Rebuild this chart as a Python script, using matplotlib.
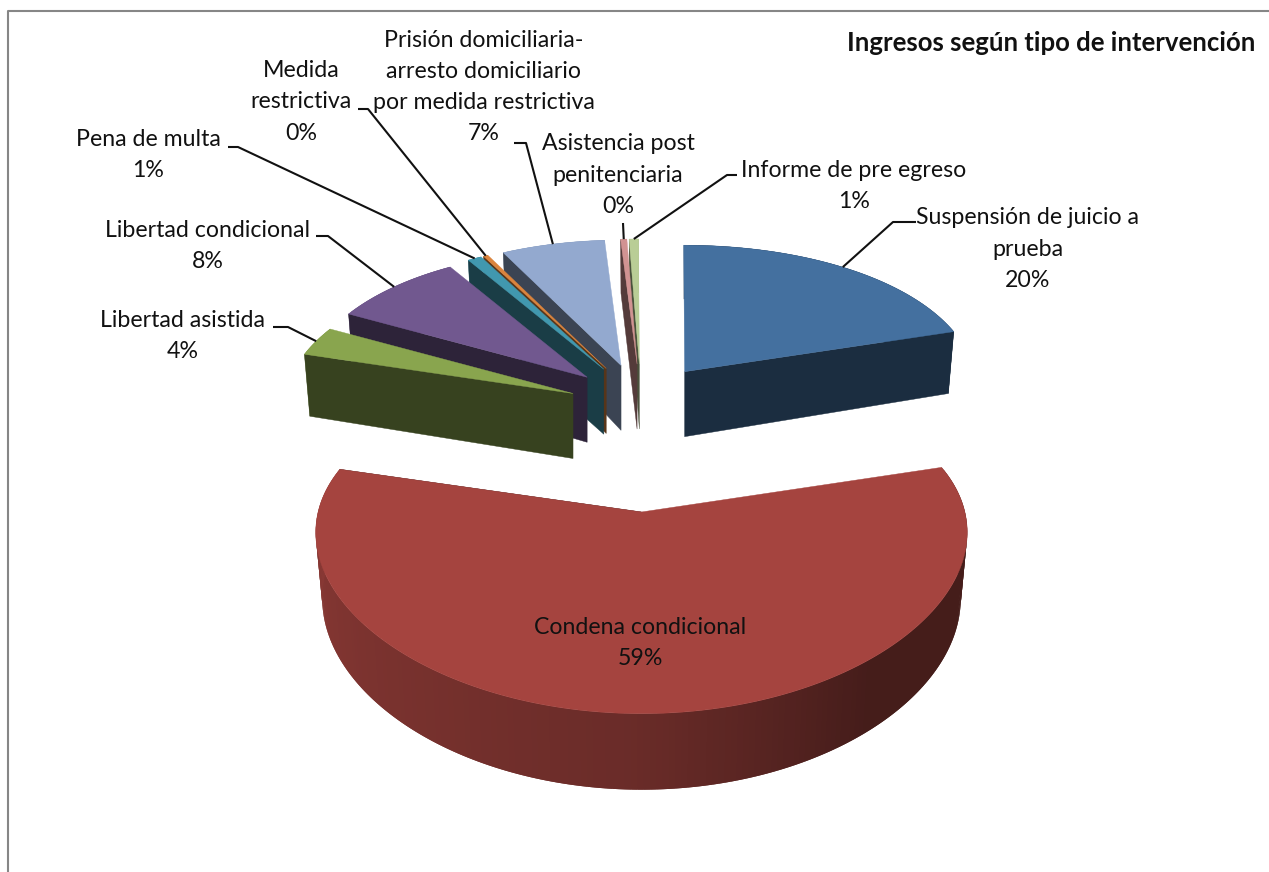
"""
Ingresos según tipo de intervención: exploded 3D pie drawn from polygons.
"""
import numpy as np
import matplotlib
matplotlib.use("Agg")
import matplotlib.pyplot as plt
from matplotlib.patches import Polygon

plt.rcParams["font.family"] = ["Lato", "DejaVu Sans"]

# data (clockwise from the top of the pie)
categories = [
    "Suspensión de juicio a\nprueba",
    "Condena condicional",
    "Libertad asistida",
    "Libertad condicional",
    "Pena de multa",
    "Medida\nrestrictiva",
    "Prisión domiciliaria-\narresto domiciliario\npor medida restrictiva",
    "Asistencia post\npenitenciaria",
    "Informe de pre egreso",
]
values = [20.5, 58.9, 3.2, 8.5, 0.9, 0.3, 6.7, 0.4, 0.6]
percent_labels = ["20%", "59%", "4%", "8%", "1%", "0%", "7%", "0%", "1%"]
top_colors = ["#44709F", "#A5443F", "#89A54E", "#71588F", "#4198AF",
              "#DB843D", "#93A9CF", "#D19392", "#B9CD96"]

# layout, in pixels of the 1269x872 picture
W, H_PX = 1269, 872
START = -0.2
CX, CY = 641, 435
EXPLODE_X, EXPLODE_BACK, EXPLODE_FRONT, LIFT = 73, 71, 77, 18
R, H, K, K_X, K_WEDGE = 304, 156, 0.177, 0.12, 0.06
LEFT_SCALE = 0.968  # wedges on the far left come out a bit narrower
DEPTH, K_DEPTH, BOTTOM_SCALE = 65, 0.17, 0.98
WALL_FACTOR = 0.40
FONT_SIZE = 16.7

label_pos = [(1028, 249), (640, 643), (183, 336), (208, 246), (148, 155),
             (301, 102), (484, 87), (618, 175), (854, 186)]
# label end and elbow of each leader line, the last point is on the wedge rim
leader_pts = [[(916, 222), (893, 222)], None,
              [(273, 327), (288, 327)], [(316, 236), (328, 236)],
              [(228, 147), (238, 147)], [(358, 109), (368, 109)],
              [(514, 143), (526, 143)], [(623, 223)],
              [(737, 175), (727, 175)]]


def apex_of(mid):
    a = np.radians(mid)
    ey = EXPLODE_BACK if np.cos(a) > 0 else EXPLODE_FRONT
    return (CX + EXPLODE_X * np.sin(a),
            CY - ey * np.cos(a) - LIFT * np.sin(a) ** 2)


def rim(t, mid):
    """Top-face rim point, relative to the wedge apex, with perspective."""
    a = np.radians(t)
    u, v = np.sin(a), np.cos(a)
    sw = 1 + K_WEDGE * np.cos(np.radians(mid))
    rx = R * LEFT_SCALE if mid > 200 else R
    return (rx * u / (1 + K_X * v) / sw, -H * v / (1 + K * v) / sw,
            DEPTH * (1 - K_DEPTH * v))


def shade(color, f):
    return tuple(c * f for c in matplotlib.colors.to_rgb(color))


fig = plt.figure(figsize=(W / 100, H_PX / 100), dpi=100)
ax = fig.add_axes([0, 0, 1, 1])
ax.set_xlim(0, W)
ax.set_ylim(H_PX, 0)
ax.axis("off")

# chart frame, cut by the screenshot on the right and at the bottom
ax.plot([8, 8, W], [H_PX, 11, 11], color="#868686", lw=1.5)

shares = np.array(values) / sum(values) * 360
ends = START + np.cumsum(shares)
starts = ends - shares
mids = (starts + ends) / 2

order = sorted(range(len(values)), key=lambda i: -np.cos(np.radians(mids[i])))
for i in order:
    ax0, ay0 = apex_of(mids[i])
    ts = np.linspace(starts[i], ends[i], max(int(shares[i] / 1.0), 2) + 1)
    col = top_colors[i]

    # outer wall, darker to the right; segments overlap so no seams show
    for j in range(len(ts) - 1):
        t1, t2 = ts[j], ts[min(j + 2, len(ts) - 1)]
        x1, y1, d1 = rim(t1, mids[i])
        x2, y2, d2 = rim(t2, mids[i])
        f = np.interp(ts[j], [140, 180, 285], [0.42, 0.64, 0.86])
        ax.add_patch(Polygon([(ax0 + x1, ay0 + y1), (ax0 + x2, ay0 + y2),
                              (ax0 + x2 * BOTTOM_SCALE, ay0 + y2 + d2),
                              (ax0 + x1 * BOTTOM_SCALE, ay0 + y1 + d1)],
                             fc=shade(col, f), ec="none", lw=0))

    # cut face towards the viewer
    t_cut = ends[i] if mids[i] < 180 else starts[i]
    x, y, d = rim(t_cut, mids[i])
    wall = shade(col, WALL_FACTOR)
    ax.add_patch(Polygon([(ax0, ay0), (ax0 + x, ay0 + y),
                          (ax0 + x * BOTTOM_SCALE, ay0 + y + d),
                          (ax0, ay0 + DEPTH)],
                         fc=wall, ec=wall, lw=0.3))

    # top face
    pts = [(ax0, ay0)]
    for t in ts:
        x, y, _ = rim(t, mids[i])
        pts.append((ax0 + x, ay0 + y))
    ax.add_patch(Polygon(pts, fc=col, ec=col, lw=0.3))

for i, cat in enumerate(categories):
    ax.text(label_pos[i][0], label_pos[i][1], f"{cat}\n{percent_labels[i]}",
            ha="center", va="center", fontsize=FONT_SIZE, color="#111111",
            linespacing=1.6, zorder=5)
    if leader_pts[i] is not None:
        ax0, ay0 = apex_of(mids[i])
        x, y, _ = rim(mids[i], mids[i])
        xs = [p[0] for p in leader_pts[i]] + [ax0 + x]
        ys = [p[1] for p in leader_pts[i]] + [ay0 + y]
        ax.plot(xs, ys, color="#111111", lw=1.5, zorder=4,
                solid_capstyle="butt", solid_joinstyle="round")

ax.text(1255, 43, "Ingresos según tipo de intervención", ha="right", va="center",
        fontsize=18.5, fontweight="bold", color="#111111")

fig.savefig("out.png", dpi=100)
